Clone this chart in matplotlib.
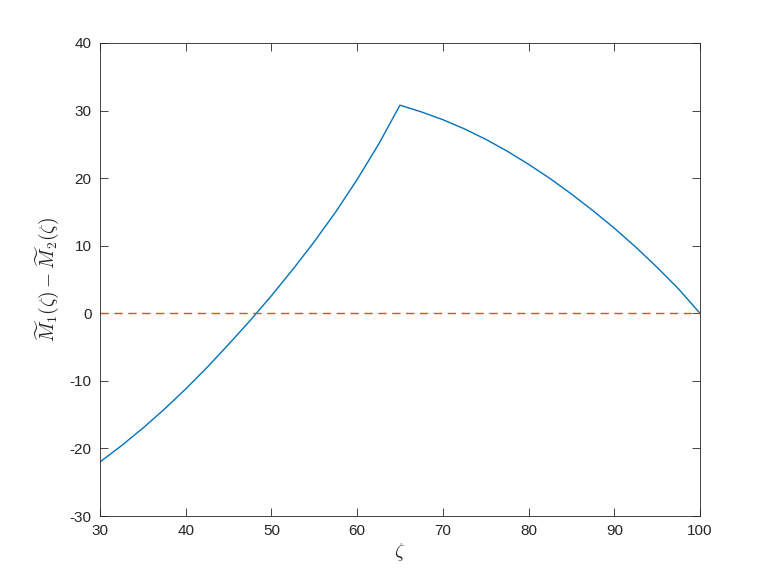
import numpy as np
import matplotlib.pyplot as plt

plt.rcParams['font.family'] = ['Liberation Sans', 'DejaVu Sans']
plt.rcParams['mathtext.fontset'] = 'cm'
plt.rcParams['axes.unicode_minus'] = False

# values
zeta = [30, 32.5, 35, 37.5, 40, 42.5, 45, 47.5, 50, 52.5, 55, 57.5, 60, 62.5, 65,
        67.5, 70, 72.5, 75, 77.5, 80, 82.5, 85, 87.5, 90, 92.5, 95, 97.5, 100]
diff = [-22.0, -19.6, -17.0, -14.2, -11.2, -8.0, -4.6, -1.1, 2.6, 6.5, 10.6, 15.0, 19.8, 25.0, 30.8,
        29.8, 28.65, 27.3, 25.75, 24.0, 22.05, 19.95, 17.65, 15.2, 12.6, 9.8, 6.8, 3.6, 0.0]
ref_x = [30, 100]
ref_y = [0, 0]

xticks = [30, 40, 50, 60, 70, 80, 90, 100]
yticks = [-30, -20, -10, 0, 10, 20, 30, 40]

fig = plt.figure(figsize=(7.74, 5.8), dpi=100)
ax = fig.add_axes([100/774, 64/580, 600/774, 473/580])

ax.plot(zeta, diff, color='#0072BD', lw=1.0)
ax.plot(ref_x, ref_y, '--', color='#D95319', lw=1.0, dashes=(6, 4))

ax.set_xlim(30, 100)
ax.set_ylim(-30, 40)
ax.set_xticks(xticks)
ax.set_yticks(yticks)
ax.tick_params(direction='in', length=6, width=0.6, top=True, right=True,
               labelsize=11, colors='#262626', pad=6)
for s in ax.spines.values():
    s.set_color('#262626')
    s.set_linewidth(0.6)

ax.set_xlabel(r'$\zeta$', fontsize=14, color='#262626', labelpad=2)
ax.set_ylabel(r'$\widetilde{M}_1(\zeta)-\widetilde{M}_2(\zeta)$', fontsize=14,
              color='#262626', labelpad=6)

fig.savefig('out.png', dpi=100)
